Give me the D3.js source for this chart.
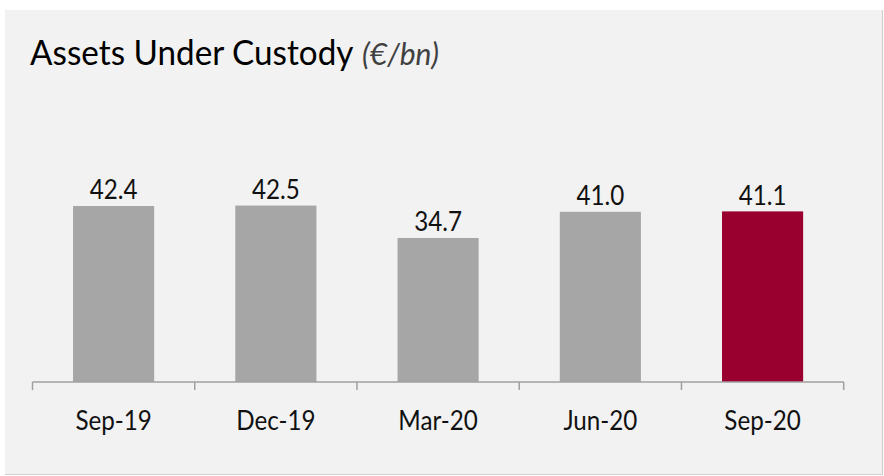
<!DOCTYPE html>
<html>
<head>
<meta charset="utf-8">
<script src="https://cdn.jsdelivr.net/npm/d3@7"></script>
<style>
  html, body { margin: 0; padding: 0; background: #ffffff; }
  svg { display: block; }
  text { font-family: Lato, "Open Sans", sans-serif; font-weight: 400; }
</style>
</head>
<body>
<svg id="chart" width="884" height="476"></svg>
<script>
// Assets under custody, quarter-end, €bn
const categories = ["Sep-19", "Dec-19", "Mar-20", "Jun-20", "Sep-20"];
const values = [42.4, 42.5, 34.7, 41.0, 41.1];
const titleMain = "Assets Under Custody";
const titleUnit = "(€/bn)";

const W = 884, H = 476;
const svg = d3.select("#chart");

// panel background with thin border on the right and bottom
svg.append("rect")
  .attr("x", 5).attr("y", 10)
  .attr("width", W - 6).attr("height", H - 11)
  .attr("fill", "#f2f2f2");
svg.append("path")
  .attr("d", `M${W - 1.5},10 V${H - 1.5} H5`)
  .attr("fill", "none").attr("stroke", "#cfcfcf").attr("stroke-width", 1.2);

const x = d3.scaleBand()
  .domain(categories)
  .range([32.5, 843.7])
  .paddingInner(0.5)
  .paddingOuter(0.25);

const baseY = 382;
const y = d3.scaleLinear().domain([0, 50]).range([baseY, baseY - 50 * 4.151]);

// narrow text face: slight horizontal condensing
const condense = 0.88;

// bars
svg.append("g").selectAll("rect")
  .data(values)
  .join("rect")
  .attr("x", (d, i) => x(categories[i]))
  .attr("y", d => y(d))
  .attr("width", x.bandwidth())
  .attr("height", d => y(0) - y(d))
  .attr("fill", (d, i) => i === values.length - 1 ? "#990030" : "#a6a6a6");

// value labels
svg.append("g").selectAll("text")
  .data(values)
  .join("text")
  .attr("transform", (d, i) =>
    `translate(${x(categories[i]) + x.bandwidth() / 2},${y(d) - 6.7}) scale(${condense},1)`)
  .attr("text-anchor", "middle")
  .attr("font-size", 27.5)
  .attr("fill", "#111")
  .text(d => d.toFixed(1));

// category axis: baseline with ticks between categories
const step = x.step();
const r0 = x.range()[0];
const axis = svg.append("g").attr("stroke", "#a0a0a0").attr("stroke-width", 1.5).attr("fill", "none");
axis.append("line").attr("x1", r0).attr("x2", x.range()[1]).attr("y1", baseY).attr("y2", baseY);
axis.selectAll("line.tick")
  .data(d3.range(categories.length + 1))
  .join("line")
  .attr("class", "tick")
  .attr("x1", i => r0 + i * step).attr("x2", i => r0 + i * step)
  .attr("y1", baseY).attr("y2", baseY + 8);

svg.append("g").selectAll("text")
  .data(categories)
  .join("text")
  .attr("transform", d => `translate(${x(d) + x.bandwidth() / 2},430) scale(${condense},1)`)
  .attr("text-anchor", "middle")
  .attr("font-size", 27.5)
  .attr("fill", "#111")
  .text(d => d);

// title and unit
svg.append("text")
  .attr("transform", "translate(30,65) scale(0.95,1)")
  .attr("font-size", 35).attr("fill", "#000")
  .text(titleMain);
svg.append("text")
  .attr("x", 362).attr("y", 65)
  .attr("font-size", 30).attr("font-style", "italic").attr("font-weight", 300)
  .attr("fill", "#404040").text(titleUnit);
</script>
</body>
</html>
